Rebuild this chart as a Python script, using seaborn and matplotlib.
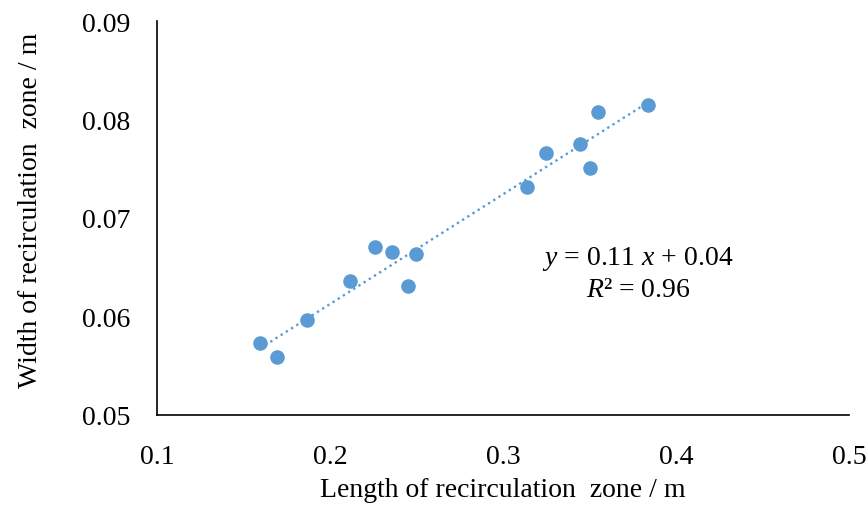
import numpy as np
import pandas as pd
import matplotlib
matplotlib.use("Agg")
import matplotlib.pyplot as plt
import seaborn as sns

# Data
length_m = [0.1595, 0.1692, 0.1869, 0.2116, 0.2262, 0.2357, 0.2499,
            0.2449, 0.3137, 0.3250, 0.3447, 0.3501, 0.3551, 0.3836]
width_m = [0.05728, 0.05589, 0.05961, 0.06360, 0.06709, 0.06655, 0.06638,
           0.06310, 0.07318, 0.07663, 0.07754, 0.07510, 0.08076, 0.08147]
x_ticks = [0.1, 0.2, 0.3, 0.4, 0.5]
y_ticks = [0.05, 0.06, 0.07, 0.08, 0.09]
x_label = "Length of recirculation  zone / m"
y_label = "Width of recirculation  zone / m"
eq_text = "$y$ = 0.11 $x$ + 0.04"
r2_text = "$R$\u00b2 = 0.96"

sns.set_theme(style="white")
plt.rcParams["font.family"] = ["Liberation Serif", "DejaVu Serif"]
plt.rcParams["mathtext.fontset"] = "custom"
plt.rcParams["mathtext.rm"] = "Liberation Serif"
plt.rcParams["mathtext.it"] = "Liberation Serif:italic"

df = pd.DataFrame({"length": length_m, "width": width_m})
color = "#5B9BD5"

fig = plt.figure(figsize=(8.68, 5.06), dpi=100)
ax = fig.add_axes([0.1809, 0.1779, 0.978 - 0.1809, 0.9565 - 0.1779])

sns.regplot(data=df, x="length", y="width", ax=ax, ci=None, truncate=True,
            color=color,
            scatter_kws={"s": 110, "alpha": 1, "linewidths": 0, "zorder": 3},
            line_kws={"ls": (0, (1, 1.6)), "lw": 1.7, "zorder": 2})

ax.set_xlim(0.1, 0.5)
ax.set_ylim(0.05, 0.09)
ax.set_xticks(x_ticks)
ax.set_yticks(y_ticks)
ax.set_xticklabels([f"{v:g}" for v in x_ticks])
ax.set_yticklabels([f"{v:.2f}" for v in y_ticks])

for s in ["top", "right"]:
    ax.spines[s].set_visible(False)
for s in ["left", "bottom"]:
    ax.spines[s].set_color("black")
    ax.spines[s].set_linewidth(1.2)

ax.tick_params(axis="both", direction="in", length=6, width=1.2, color="black",
               labelsize=20, labelcolor="black")
ax.tick_params(axis="y", pad=19)
ax.tick_params(axis="x", pad=21)

ax.set_xlabel(x_label, fontsize=20, color="black", labelpad=6)
ax.set_ylabel(y_label, fontsize=20, color="black")
ax.yaxis.set_label_coords(-0.165, 0.523)

ax.text(0.378, 0.0659, eq_text, fontsize=20, ha="center", va="center", color="black")
ax.text(0.378, 0.0627, r2_text, fontsize=20, ha="center", va="center", color="black")

fig.savefig("out.png", dpi=100)
